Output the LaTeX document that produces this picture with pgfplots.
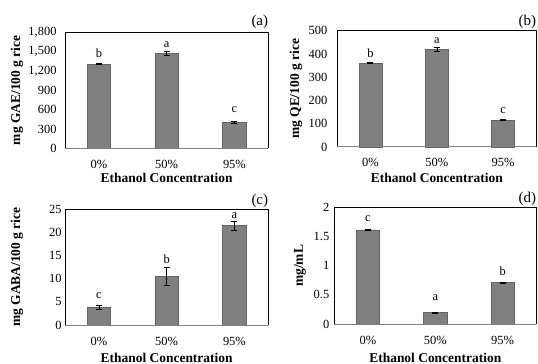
\documentclass[border=0pt]{standalone}
\usepackage{fontspec}
\setmainfont{Liberation Serif}
\usepackage{pgfplots}
\pgfplotsset{compat=1.18}
\definecolor{barfill}{RGB}{128,128,128}
\definecolor{baredge}{RGB}{100,100,100}
\definecolor{axgray}{RGB}{130,130,130}
\pgfplotsset{
  panel/.style={
    scale only axis,
    anchor=south west,
    xmin=-0.5, xmax=2.5,
    xtick={0,1,2}, xticklabels={0\%,50\%,95\%},
    ymin=0,
    major tick length=0pt,
    axis line style={draw=none},
    tick label style={font=\fontsize{12.5}{12.5}\selectfont},
    /pgf/number format/assume math mode=true,
    /pgf/number format/1000 sep={,},
    xticklabel style={anchor=base, yshift=-20bp},
    xlabel={Ethanol Concentration},
    xlabel style={font=\bfseries\fontsize{13.5}{13.5}\selectfont, anchor=base},
    ylabel style={font=\bfseries\fontsize{13.5}{13.5}\selectfont, anchor=center, rotate=0},
    clip=false,
  },
  mybars/.style={ybar, bar width=0.345, fill=barfill, draw=baredge, line width=0.5pt,
    error bars/.cd, y dir=both, y explicit,
    error bar style={black, line width=0.6pt},
    error mark options={black, line width=0.6pt, mark size=3bp, rotate=90}},
  mylabels/.style={draw=none, mark=none, nodes near coords, point meta=explicit symbolic,
    nodes near coords style={font=\fontsize{12.5}{12.5}\selectfont, anchor=base, inner sep=0pt}},
}
\newcommand{\frameit}{%
  \draw[black, line width=0.9pt] (rel axis cs:0,0) -- (rel axis cs:0,1) -- (rel axis cs:1,1) -- (rel axis cs:1,0);
  \draw[axgray, line width=1pt] (rel axis cs:0,0) -- (rel axis cs:1,0);
}
\begin{document}
\begin{tikzpicture}
\useasboundingbox (0,0) rectangle (538bp,364bp);
% (a)
\begin{axis}[panel, at={(65bp,215.7bp)}, width=203.3bp, height=116bp,
  ymax=1800, ytick={0,300,...,1800},
  yticklabel style={xshift=-5bp},
  ylabel={mg GAE/100 g rice},
  ylabel style={at={(axis description cs:-0.236,0.5)}},
  xlabel style={at={(axis description cs:0.5,0)}, yshift=-34bp}]
\addplot[mybars] table[x=x, y=y, y error=e] {
x y e
0 1308 8
1 1474 35
2 408 15
};
\addplot[mylabels] table[x=x, y=y, meta=l] {
x y l
0 1412 b
1 1568 a
2 553 c
};
\frameit
\node[anchor=base east, font=\fontsize{15}{15}\selectfont, inner sep=0pt] at ([yshift=7bp]rel axis cs:1,1) {(a)};
\end{axis}
% (b)
\begin{axis}[panel, at={(337.3bp,217bp)}, width=199bp, height=116.3bp,
  ymax=500, ytick={0,100,...,500},
  yticklabel style={xshift=-6.5bp},
  ylabel={mg QE/100 g rice},
  ylabel style={at={(axis description cs:-0.2075,0.5)}},
  xlabel style={at={(axis description cs:0.5,0)}, yshift=-36bp}]
\addplot[mybars] table[x=x, y=y, y error=e] {
x y e
0 361 2
1 420 9
2 116 1.5
};
\addplot[mylabels] table[x=x, y=y, meta=l] {
x y l
0 386 b
1 446 a
2 145 c
};
\frameit
\node[anchor=base east, font=\fontsize{15}{15}\selectfont, inner sep=0pt] at ([yshift=5bp]rel axis cs:1,1) {(b)};
\end{axis}
% (c)
\begin{axis}[panel, at={(65bp,39bp)}, width=203.3bp, height=115.7bp,
  ymax=25, ytick={0,5,...,25},
  yticklabel style={xshift=0bp},
  ylabel={mg GABA/100 g rice},
  ylabel style={at={(axis description cs:-0.236,0.5)}},
  xlabel style={at={(axis description cs:0.5,0)}, yshift=-37.5bp}]
\addplot[mybars] table[x=x, y=y, y error=e] {
x y e
0 3.89 0.45
1 10.44 1.95
2 21.46 0.9
};
\addplot[mylabels] table[x=x, y=y, meta=l] {
x y l
0 5.62 c
1 13.3 b
2 23.05 a
};
\frameit
\node[anchor=base east, font=\fontsize{15}{15}\selectfont, inner sep=0pt] at ([yshift=5bp]rel axis cs:1,1) {(c)};
\end{axis}
% (d)
\begin{axis}[panel, at={(334.3bp,40bp)}, width=202bp, height=116.3bp,
  ymax=2, ytick={0,0.5,1,1.5,2},
  yticklabel style={xshift=-1.5bp},
  ylabel={mg/mL},
  ylabel style={at={(axis description cs:-0.170,0.5)}},
  xlabel style={at={(axis description cs:0.5,0)}, yshift=-38bp}]
\addplot[mybars] table[x=x, y=y, y error=e] {
x y e
0 1.617 0.012
1 0.20 0.008
2 0.71 0.01
};
\addplot[mylabels] table[x=x, y=y, meta=l] {
x y l
0 1.76 c
1 0.41 a
2 0.83 b
};
\frameit
\node[anchor=base east, font=\fontsize{15}{15}\selectfont, inner sep=0pt] at ([yshift=5bp]rel axis cs:1,1) {(d)};
\end{axis}
\end{tikzpicture}
\end{document}
